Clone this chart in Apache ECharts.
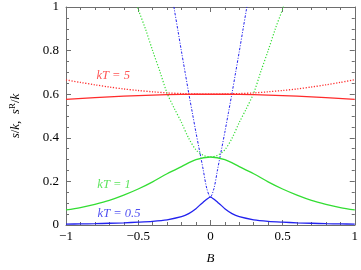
<!DOCTYPE html>
<html><head><meta charset="utf-8">
<script src="https://cdn.jsdelivr.net/npm/echarts@6/dist/echarts.min.js"></script>
<style>html,body{margin:0;padding:0;background:#fff}#c{width:361px;height:270px}</style>
</head><body><div id="c"></div>
<script>
// Data
const xTicks = [-1, -0.5, 0, 0.5, 1];
const yTicks = [0, 0.2, 0.4, 0.6, 0.8, 1];

const blueSolidB = [-1,-0.9,-0.8,-0.7,-0.6,-0.5,-0.4,-0.3,-0.2,-0.15,-0.1,-0.075,-0.05,-0.025,0,0.025,0.05,0.075,0.1,0.15,0.2,0.3,0.4,0.5,0.6,0.7,0.8,0.9,1];
const blueSolidS = [0.004,0.005,0.006,0.008,0.010,0.013,0.017,0.024,0.038,0.052,0.075,0.090,0.104,0.118,0.128,0.118,0.104,0.090,0.075,0.052,0.038,0.024,0.017,0.013,0.010,0.008,0.006,0.005,0.004];

const greenSolidB = [-1,-0.9,-0.8,-0.7,-0.6,-0.5,-0.4,-0.3,-0.2,-0.1,0,0.1,0.2,0.3,0.4,0.5,0.6,0.7,0.8,0.9,1];
const greenSolidS = [0.069,0.080,0.095,0.113,0.137,0.165,0.198,0.235,0.268,0.300,0.312,0.300,0.268,0.235,0.198,0.165,0.137,0.113,0.095,0.080,0.069];

const redSolidB = [-1,-0.8,-0.6,-0.4,-0.2,0,0.2,0.4,0.6,0.8,1];
const redSolidS = [0.576,0.584,0.591,0.596,0.599,0.600,0.599,0.596,0.591,0.584,0.576];

const redDotB = [-1,-0.9,-0.8,-0.7,-0.6,-0.5,-0.4,-0.3,-0.2,-0.1,0,0.1,0.2,0.3,0.4,0.5,0.6,0.7,0.8,0.9,1];
const redDotS = [0.666,0.654,0.643,0.633,0.624,0.617,0.611,0.606,0.603,0.601,0.600,0.601,0.603,0.606,0.611,0.617,0.624,0.633,0.643,0.654,0.666];

const greenDotB = [-0.55,-0.5,-0.45,-0.4,-0.35,-0.3,-0.25,-0.2,-0.15,-0.1,-0.05,0,0.05,0.1,0.15,0.2,0.25,0.3,0.35,0.4,0.45,0.5,0.55];
const greenDotS = [1.09,0.99,0.90,0.80,0.705,0.605,0.535,0.47,0.398,0.345,0.320,0.312,0.320,0.345,0.398,0.47,0.535,0.605,0.705,0.80,0.90,0.99,1.09];

const blueDotB = [-0.275,-0.25,-0.225,-0.2,-0.175,-0.15,-0.125,-0.1,-0.075,-0.05,-0.025,0,0.025,0.05,0.075,0.1,0.125,0.15,0.175,0.2,0.225,0.25,0.275];
const blueDotS = [1.09,0.99,0.893,0.795,0.70,0.605,0.515,0.425,0.34,0.255,0.168,0.128,0.168,0.255,0.34,0.425,0.515,0.605,0.70,0.795,0.893,0.99,1.09];

const labelTexts = ['kT = 5', 'kT = 1', 'kT = 0.5'];
const labelCoords = [[-0.673, 0.683], [-0.667, 0.186], [-0.633, 0.05]];

const RED = '#ff2b2b', GREEN = '#33dd33', BLUE = '#2222ee';
const FONT = 'Liberation Serif';
const AX = '#6e6e6e';

function pairs(b, s) { return b.map((v, i) => [v, s[i]]); }
function fmtNum(v) { return String(v).replace('-', '\u2212'); }

function labelSeries(i, color) {
  return {
    type: 'scatter', silent: true, symbol: 'circle', symbolSize: 1,
    itemStyle: { color: 'rgba(0,0,0,0)' },
    data: [labelCoords[i]],
    label: { show: true, position: 'inside', formatter: labelTexts[i],
      color: color, fontFamily: FONT, fontStyle: 'italic', fontSize: 12.5 },
    z: 5
  };
}

const chart = echarts.init(document.getElementById('c'), null, { renderer: 'canvas' });
const baseX = { type: 'value', min: -1, max: 1, interval: 0.5 };
const baseY = { type: 'value', min: 0, max: 1, interval: 0.2 };
chart.setOption({
  animation: false,
  grid: { left: 63, right: 4, top: 7, bottom: 42 },
  xAxis: [
    Object.assign({}, baseX, {
      name: 'B', nameLocation: 'middle', nameGap: 27,
      nameTextStyle: { fontFamily: FONT, fontStyle: 'italic', fontSize: 13, color: '#000' },
      axisLine: { onZero: false, lineStyle: { color: AX, width: 1 } },
      axisTick: { inside: true, length: 5, lineStyle: { color: AX } },
      minorTick: { show: true, splitNumber: 5, length: 3, lineStyle: { color: AX } },
      splitLine: { show: false },
      axisLabel: { margin: 5, fontFamily: FONT, fontSize: 13, color: '#000', formatter: fmtNum }
    }),
    Object.assign({}, baseX, {
      position: 'top',
      axisLine: { onZero: false, lineStyle: { color: AX, width: 1 } },
      axisTick: { inside: true, length: 5, lineStyle: { color: AX } },
      minorTick: { show: true, splitNumber: 5, length: 3, lineStyle: { color: AX } },
      splitLine: { show: false }, axisLabel: { show: false }
    })
  ],
  yAxis: [
    Object.assign({}, baseY, {
      name: '{i|s}/{i|k},  {i|s}{sup|R}/{i|k}', nameLocation: 'middle', nameGap: 42,
      nameTextStyle: { fontFamily: FONT, fontSize: 13, color: '#000',
        rich: {
          i: { fontFamily: FONT, fontStyle: 'italic', fontSize: 13, color: '#000' },
          sup: { fontFamily: FONT, fontSize: 9, color: '#000', padding: [0, 0, 7, 0] }
        } },
      axisLine: { onZero: false, lineStyle: { color: AX, width: 1 } },
      axisTick: { inside: true, length: 5, lineStyle: { color: AX } },
      minorTick: { show: true, splitNumber: 4, length: 3, lineStyle: { color: AX } },
      splitLine: { show: false },
      axisLabel: { margin: 7, fontFamily: FONT, fontSize: 13, color: '#000', formatter: fmtNum }
    }),
    Object.assign({}, baseY, {
      position: 'right',
      axisLine: { onZero: false, lineStyle: { color: AX, width: 1 } },
      axisTick: { inside: true, length: 5, lineStyle: { color: AX } },
      minorTick: { show: true, splitNumber: 4, length: 3, lineStyle: { color: AX } },
      splitLine: { show: false }, axisLabel: { show: false }
    })
  ],
  series: [
    { type: 'line', name: 'red dotted', data: pairs(redDotB, redDotS), showSymbol: false, smooth: 0.3, clip: true,
      lineStyle: { color: RED, width: 1.3, type: [1.2, 1.6] } },
    { type: 'line', name: 'green dotted', data: pairs(greenDotB, greenDotS), showSymbol: false, smooth: 0.3, clip: true,
      lineStyle: { color: GREEN, width: 1.2, type: [1.2, 1.8] } },
    { type: 'line', name: 'blue dotted', data: pairs(blueDotB, blueDotS), showSymbol: false, smooth: 0.3, clip: true,
      lineStyle: { color: BLUE, width: 1, type: [2.5, 1.5, 1, 1.5] } },
    { type: 'line', name: 'red solid', data: pairs(redSolidB, redSolidS), showSymbol: false, smooth: 0.3, clip: true,
      lineStyle: { color: RED, width: 1.3 } },
    { type: 'line', name: 'green solid', data: pairs(greenSolidB, greenSolidS), showSymbol: false, smooth: 0.3, clip: true,
      lineStyle: { color: GREEN, width: 1.3 } },
    { type: 'line', name: 'blue solid', data: pairs(blueSolidB, blueSolidS), showSymbol: false, smooth: 0.3, clip: true,
      lineStyle: { color: BLUE, width: 1.3 } },
    labelSeries(0, RED),
    labelSeries(1, GREEN),
    labelSeries(2, BLUE)
  ]
});
</script>
</body></html>
